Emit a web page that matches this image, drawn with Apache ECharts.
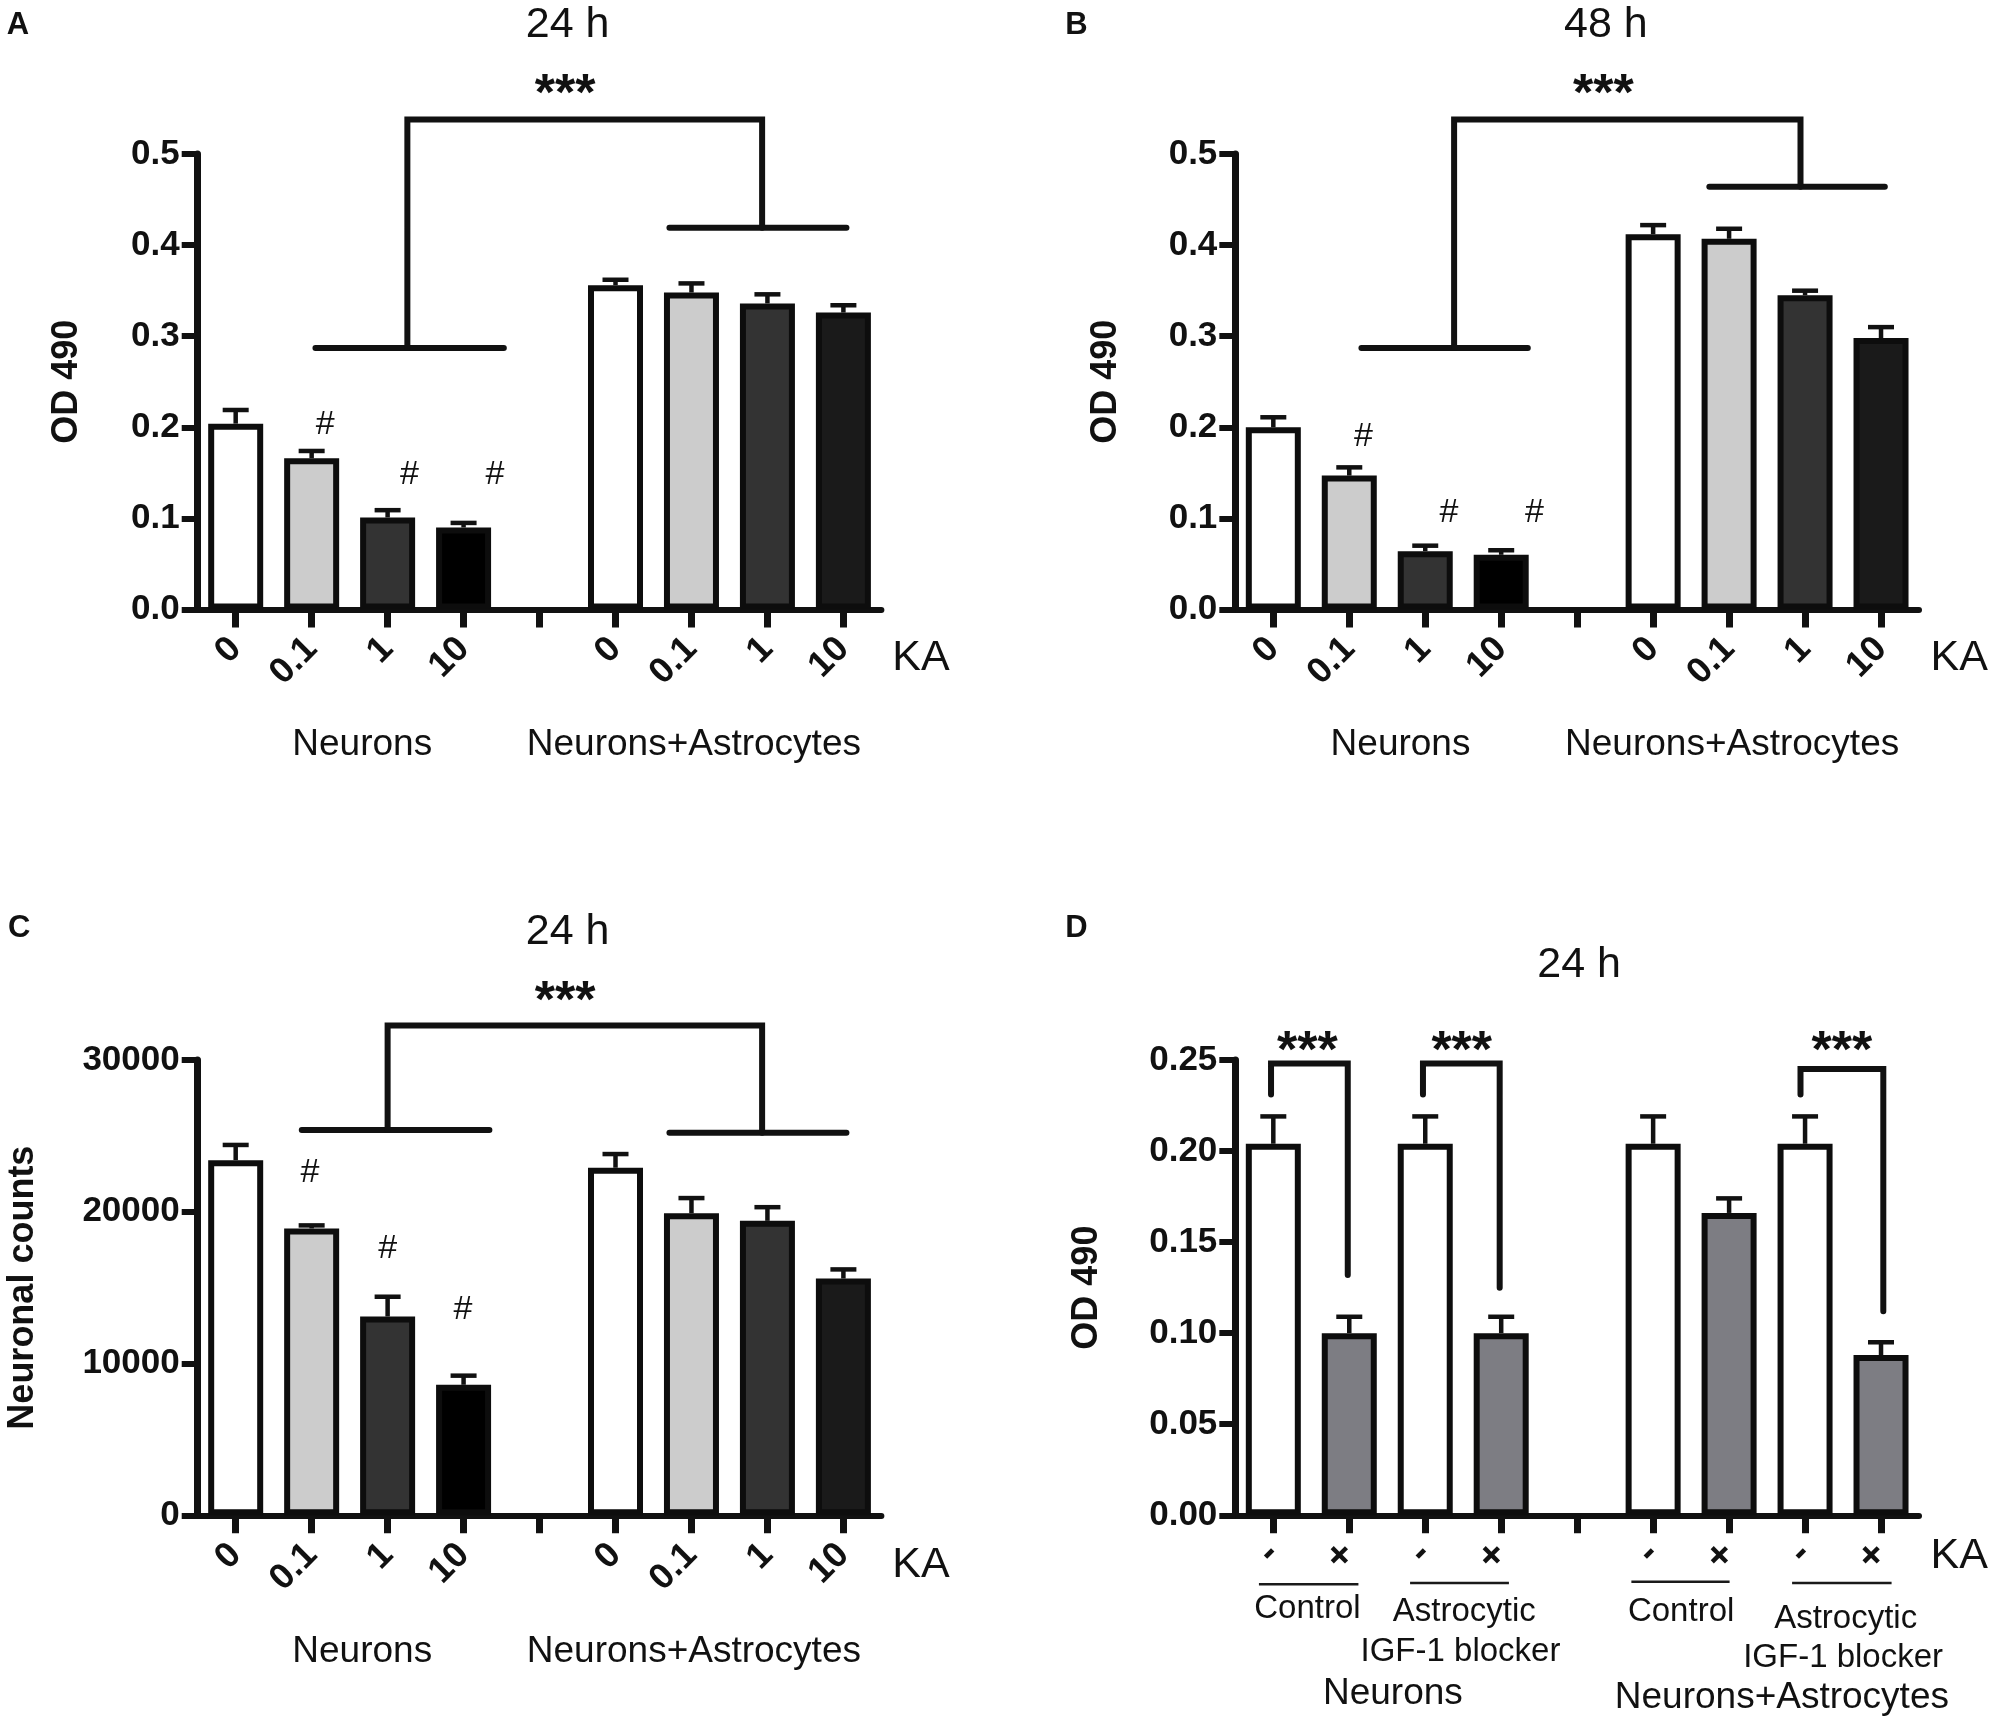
<!DOCTYPE html>
<html>
<head>
<meta charset="utf-8">
<title>OD 490 / neuronal counts</title>
<script src="https://cdn.jsdelivr.net/npm/echarts@6/dist/echarts.min.js"></script>
<style>
html,body{margin:0;padding:0;background:#fff;}
#main{width:2000px;height:1727px;}
</style>
</head>
<body>
<div id="main"></div>
<script>
//分类标签
var kaLabels = ['0','0.1','1','10','','0','0.1','1','10'];
var blockLabels = ['-','+','-','+','','-','+','-','+'];

//数据 (均值, 误差线顶端), 第5个是空位
var aMeans = [0.204,0.166,0.101,0.090,null,0.356,0.348,0.336,0.326];
var aTops  = [0.219,0.174,0.109,0.095,null,0.362,0.358,0.346,0.334];
var bMeans = [0.200,0.147,0.064,0.060,null,0.412,0.407,0.345,0.298];
var bTops  = [0.211,0.156,0.070,0.065,null,0.422,0.418,0.350,0.310];
var cMeans = [23400,18900,13100,8600,null,22900,19900,19400,15600];
var cTops  = [24400,19100,14400,9200,null,23800,20900,20300,16200];
var dMeans = [0.204,0.100,0.204,0.100,null,0.204,0.166,0.204,0.088];
var dTops  = [0.219,0.109,0.219,0.109,null,0.219,0.174,0.219,0.095];

//柱子颜色
var aFills = ['#ffffff','#cccccc','#333333','#000000','#fff','#ffffff','#cccccc','#333333','#1a1a1a'];
var dFills = ['#ffffff','#7d7d83','#ffffff','#7d7d83','#fff','#ffffff','#7d7d83','#ffffff','#7d7d83'];

//括号 (类目序号, 数值)
var aBrackets = [
	[[1.05,0.287],[3.53,0.287]],
	[[5.71,0.419],[8.04,0.419]],
	[[2.26,0.287],[2.26,0.538],[6.93,0.538],[6.93,0.419]]
];
var bBrackets = [
	[[1.16,0.287],[3.35,0.287]],
	[[5.74,0.464],[8.05,0.464]],
	[[2.38,0.287],[2.38,0.538],[6.94,0.538],[6.94,0.464]]
];
var cBrackets = [
	[[0.87,25380],[3.34,25380]],
	[[5.71,25210],[8.04,25210]],
	[[2.00,25380],[2.00,32270],[6.93,32270],[6.93,25210]]
];
var dBrackets = [
	[[-0.03,0.231],[-0.03,0.248],[0.98,0.248],[0.98,0.132]],
	[[1.97,0.231],[1.97,0.248],[2.98,0.248],[2.98,0.125]],
	[[6.94,0.231],[6.94,0.245],[8.03,0.245],[8.03,0.112]]
];

//位置按1568宽的图量的, 乘S换算
var S = 2000/1568;
var lw = 6;
var tickFont = 'Liberation Sans';

function grid(left,top){
	//v6默认会把轴标签收进画布, 这里关掉
	return {left:left*S,top:top*S,width:536*S,height:357*S,containLabel:false,outerBoundsMode:'none'};
}

function xAxis(g,labels,size,margin){
	return {
		gridIndex:g,type:'category',data:labels,boundaryGap:true,
		axisLine:{lineStyle:{color:'#111',width:lw}},
		axisTick:{show:true,alignWithLabel:true,interval:0,length:18,lineStyle:{color:'#111',width:lw+1}},
		axisLabel:{interval:0,rotate:45,margin:margin,color:'#111',fontFamily:tickFont,fontWeight:'bold',fontSize:size},
		splitLine:{show:false}
	};
}

function yAxis(g,max,interval,digits,name,gap){
	return {
		gridIndex:g,type:'value',min:0,max:max,interval:interval,
		name:name,nameLocation:'middle',nameGap:gap*S,
		nameTextStyle:{color:'#111',fontFamily:tickFont,fontWeight:'bold',fontSize:36},
		axisLine:{show:true,lineStyle:{color:'#111',width:lw+1}},
		axisTick:{show:true,length:16,lineStyle:{color:'#111',width:lw}},
		axisLabel:{margin:18,color:'#111',fontFamily:tickFont,fontWeight:'bold',fontSize:35,
			formatter:function(v){return v.toFixed(digits);}},
		splitLine:{show:false}
	};
}

//边框画在柱宽以内, 所以barWidth是外沿宽度
function barSeries(g,means,fills){
	return {
		type:'bar',xAxisIndex:g,yAxisIndex:g,barWidth:55,silent:true,animation:false,z:2,
		data:means.map(function(v,i){
			return {value:v===null?'-':v,itemStyle:{color:fills[i],borderColor:'#0d0d0d',borderWidth:lw}};
		})
	};
}

//误差线, 只画上半
function errSeries(g,means,tops){
	var rows=[];
	means.forEach(function(v,i){ if(v!==null) rows.push([i,v,tops[i]]); });
	return {
		type:'custom',xAxisIndex:g,yAxisIndex:g,silent:true,animation:false,z:1,clip:false,
		encode:{x:0,y:[1,2]},data:rows,
		renderItem:function(params,api){
			var a=api.coord([api.value(0),api.value(1)]);
			var b=api.coord([api.value(0),api.value(2)]);
			var st={stroke:'#111',lineWidth:4.5,fill:null};
			return {type:'group',children:[
				{type:'line',shape:{x1:a[0],y1:a[1],x2:b[0],y2:b[1]},style:st},
				{type:'line',shape:{x1:b[0]-13,y1:b[1],x2:b[0]+13,y2:b[1]},style:st}
			]};
		}
	};
}

//显著性括号
function bracketSeries(g,list){
	return {
		type:'custom',xAxisIndex:g,yAxisIndex:g,silent:true,animation:false,z:3,clip:false,
		encode:{x:0,y:1},data:list.map(function(b){return [0,0];}),
		renderItem:function(params,api){
			var step=api.size([1,0])[0];
			var pts=list[params.dataIndex].map(function(p){
				var c=api.coord([0,p[1]]);
				return [c[0]+p[0]*step,c[1]];
			});
			return {type:'polyline',shape:{points:pts},style:{stroke:'#111',lineWidth:lw,fill:null,lineCap:'round',lineJoin:'miter'}};
		}
	};
}

function txt(s,x,y,size,bold){
	return {type:'text',x:x*S,y:(y+2)*S,silent:true,style:{text:s,align:'center',verticalAlign:'middle',fill:'#111',
		fontFamily:tickFont,fontSize:size,fontWeight:bold?'bold':'normal'}};
}
function rule(x1,x2,y){
	return {type:'line',silent:true,shape:{x1:x1*S,y1:y*S,x2:x2*S,y2:y*S},style:{stroke:'#1a1a1a',lineWidth:2.5}};
}

var notes = [
	txt('A',14,18,31,true),txt('24 h',445,18,43),txt('***',443,73,52,true),
	txt('#',255,331,34),txt('#',321,370,34),txt('#',388,370,34),
	txt('KA',722,514,43),txt('Neurons',284,582,37),txt('Neurons+Astrocytes',544,582,37),

	txt('B',844,18,31,true),txt('48 h',1259,18,43),txt('***',1257,73,52,true),
	txt('#',1069,340,34),txt('#',1136,400,34),txt('#',1203,400,34),
	txt('KA',1536,514,43),txt('Neurons',1098,582,37),txt('Neurons+Astrocytes',1358,582,37),

	txt('C',15,726,31,true),txt('24 h',445,729,43),txt('***',443,784,52,true),
	txt('#',243,917,34),txt('#',304,977,34),txt('#',363,1025,34),
	txt('KA',722,1225,43),txt('Neurons',284,1293,37),txt('Neurons+Astrocytes',544,1293,37),

	txt('D',844,726,31,true),txt('24 h',1238,755,43),
	txt('***',1025,823,52,true),txt('***',1146,823,52,true),txt('***',1444,823,52,true),
	txt('KA',1536,1218,43),
	txt('Control',1025,1259,33),txt('Astrocytic',1148,1262,33),txt('IGF-1 blocker',1145,1293,33),txt('Neurons',1092,1326,37),
	txt('Control',1318,1262,33),txt('Astrocytic',1447,1267,33),txt('IGF-1 blocker',1445,1298,33),txt('Neurons+Astrocytes',1397,1329,37),
	rule(987,1065,1242),rule(1105.5,1183,1241),rule(1279,1356,1240),rule(1405,1483,1241)
];

var chart = echarts.init(document.getElementById('main'),null,{renderer:'canvas'});
chart.setOption({
	backgroundColor:'#fff',
	animation:false,
	grid:[grid(155,120.8),grid(968.5,120.8),grid(155,831),grid(968.5,831)],
	xAxis:[xAxis(0,kaLabels,36,34),xAxis(1,kaLabels,36,34),xAxis(2,kaLabels,36,34),xAxis(3,blockLabels,40,33)],
	yAxis:[
		yAxis(0,0.5,0.1,1,'OD 490',88),
		yAxis(1,0.5,0.1,1,'OD 490',87),
		yAxis(2,30000,10000,0,'Neuronal counts',123),
		yAxis(3,0.25,0.05,2,'OD 490',102)
	],
	series:[
		errSeries(0,aMeans,aTops),barSeries(0,aMeans,aFills),bracketSeries(0,aBrackets),
		errSeries(1,bMeans,bTops),barSeries(1,bMeans,aFills),bracketSeries(1,bBrackets),
		errSeries(2,cMeans,cTops),barSeries(2,cMeans,aFills),bracketSeries(2,cBrackets),
		errSeries(3,dMeans,dTops),barSeries(3,dMeans,dFills),bracketSeries(3,dBrackets)
	],
	graphic:{elements:notes}
});
</script>
</body>
</html>
